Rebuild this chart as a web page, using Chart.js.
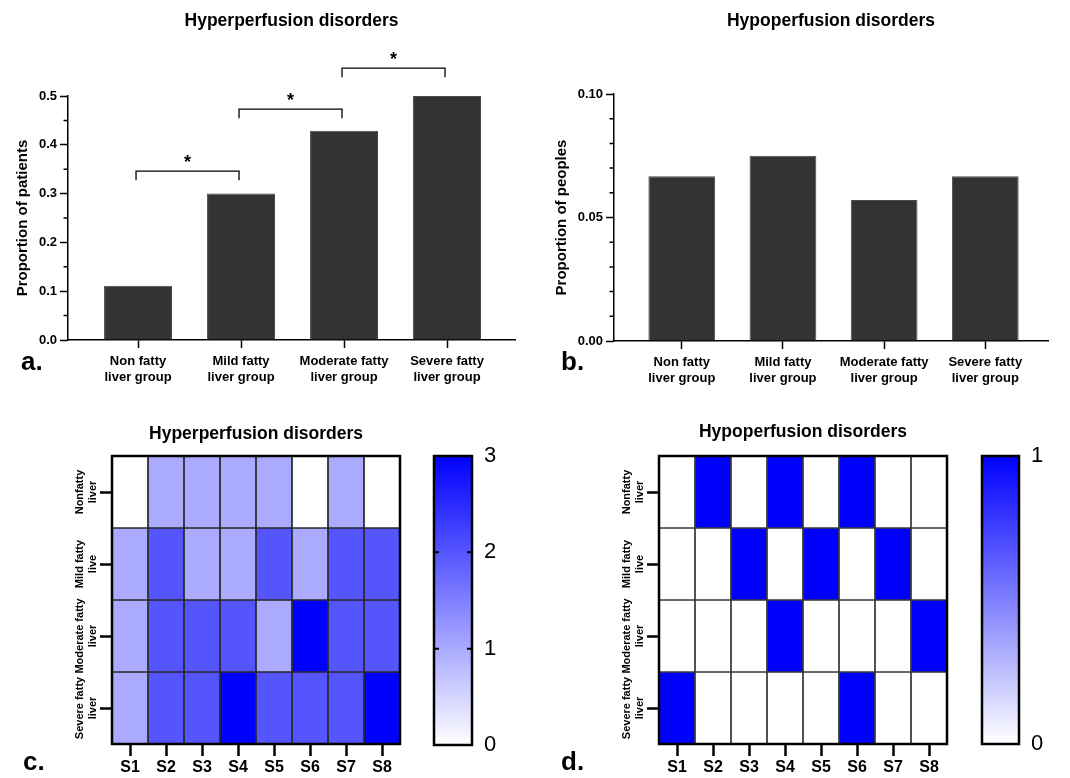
<!DOCTYPE html>
<html>
<head>
<meta charset="utf-8">
<script src="https://cdn.jsdelivr.net/npm/chart.js@4.4.1/dist/chart.umd.min.js"></script>
<style>
  body { margin: 0; background: #fff; }
  #wrap { position: relative; width: 1070px; height: 778px; }
  canvas { position: absolute; }
</style>
</head>
<body>
<div id="wrap">
  <canvas id="chartA" width="530" height="400" style="left:0;top:0"></canvas>
  <canvas id="chartB" width="540" height="400" style="left:530px;top:0"></canvas>
  <canvas id="heatC" width="425" height="378" style="left:0;top:400px"></canvas>
  <canvas id="barC" width="105" height="378" style="left:425px;top:400px"></canvas>
  <canvas id="heatD" width="430" height="378" style="left:540px;top:400px"></canvas>
  <canvas id="barD" width="100" height="378" style="left:970px;top:400px"></canvas>
</div>
<script>
// data
const groups = [['Non fatty', 'liver group'], ['Mild fatty', 'liver group'], ['Moderate fatty', 'liver group'], ['Severe fatty', 'liver group']];
const hyperProportion = [0.111, 0.300, 0.429, 0.500];
const hypoProportion = [0.0667, 0.075, 0.0571, 0.0667];

// significance brackets (group index from / to, bracket level)
const sigFrom = [0, 1, 2];
const sigTo = [1, 2, 3];
const sigLevel = [0.346, 0.473, 0.557];

const subjects = ['S1', 'S2', 'S3', 'S4', 'S5', 'S6', 'S7', 'S8'];
const liverRows = [['Nonfatty', 'liver'], ['Mild fatty', 'live'], ['Moderate fatty', 'liver'], ['Severe fatty', 'liver']];
const hyperGrades = [
    [0, 1, 1, 1, 1, 0, 1, 0],
    [1, 2, 1, 1, 2, 1, 2, 2],
    [1, 2, 2, 2, 1, 3, 2, 2],
    [1, 2, 2, 3, 2, 2, 2, 3]
];
const hypoGrades = [
    [0, 1, 0, 1, 0, 1, 0, 0],
    [0, 0, 1, 0, 1, 0, 1, 0],
    [0, 0, 0, 1, 0, 0, 0, 1],
    [1, 0, 0, 0, 0, 1, 0, 0]
];
const scaleC = [0, 3];
const scaleD = [0, 1];

const FONT = "'Liberation Sans', Arial, Helvetica, sans-serif";
Chart.defaults.font.family = FONT;
Chart.defaults.color = '#000';

const shade = t => {
    let c = Math.round(255 * (1 - t));
    return 'rgb(' + c + ',' + c + ',255)';
};

// titles, panel letters, brackets, frames and small ticks
const decor = {
    id: 'decor',
    afterDraw(chart, args, o) {
        const ctx = chart.ctx, a = chart.chartArea;
        ctx.save();
        ctx.fillStyle = '#000';
        ctx.strokeStyle = '#000';
        if (o.title) {
            ctx.font = 'bold 17.5px ' + FONT;
            ctx.textAlign = 'center';
            ctx.textBaseline = 'middle';
            ctx.fillText(o.title, (a.left + a.right) / 2, o.titleY);
        }
        if (o.letter) {
            ctx.font = 'bold 26px ' + FONT;
            ctx.textAlign = 'left';
            ctx.textBaseline = 'alphabetic';
            ctx.fillText(o.letter, o.letterX, o.letterY);
        }
        if (o.minorStep) {
            let ys = chart.scales.y;
            ctx.lineWidth = 1.5;
            ctx.beginPath();
            ys.ticks.forEach(t => {
                if (!o.isMajor(t.value)) {
                    let py = ys.getPixelForValue(t.value);
                    ctx.moveTo(a.left - 4.5, py);
                    ctx.lineTo(a.left, py);
                }
            });
            ctx.stroke();
        }
        if (o.brackets) {
            let xs = chart.scales.x, ys = chart.scales.y;
            ctx.lineWidth = 1.3;
            o.brackets.from.forEach((f, k) => {
                let x1 = xs.getPixelForValue(f) - 2;
                let x2 = xs.getPixelForValue(o.brackets.to[k]) - 2;
                let yl = ys.getPixelForValue(o.brackets.level[k]);
                ctx.beginPath();
                ctx.moveTo(x1, yl + 9);
                ctx.lineTo(x1, yl);
                ctx.lineTo(x2, yl);
                ctx.lineTo(x2, yl + 9);
                ctx.stroke();
                ctx.font = 'bold 18px ' + FONT;
                ctx.textAlign = 'center';
                ctx.textBaseline = 'alphabetic';
                ctx.fillText('*', (x1 + x2) / 2, yl - 3);
            });
        }
        if (o.rowLabels) {
            let ys = chart.scales.y;
            ctx.font = 'bold 11px ' + FONT;
            ctx.textAlign = 'center';
            ctx.textBaseline = 'middle';
            o.rowLabels.forEach((lines, i) => {
                let py = ys.getPixelForTick(i);
                ctx.save();
                ctx.translate(a.left - 26, py);
                ctx.rotate(-Math.PI / 2);
                lines.forEach((s, k) => ctx.fillText(s, 0, (k - (lines.length - 1) / 2) * 13));
                ctx.restore();
            });
        }
        if (o.innerTicks) {
            let ys = chart.scales.y;
            ctx.lineWidth = 2;
            ctx.beginPath();
            ys.ticks.forEach(t => {
                if (t.value > ys.min && t.value < ys.max) {
                    let py = ys.getPixelForValue(t.value);
                    ctx.moveTo(a.left, py); ctx.lineTo(a.left + 5, py);
                    ctx.moveTo(a.right - 5, py); ctx.lineTo(a.right, py);
                }
            });
            ctx.stroke();
        }
        if (o.frame) {
            ctx.lineWidth = 2.5;
            ctx.strokeRect(a.left, a.top, a.right - a.left, a.bottom - a.top);
        }
        ctx.restore();
    }
};
Chart.register(decor);

function barPanel(id, values, s) {
    const isMajor = v => Math.abs(v / s.major - Math.round(v / s.major)) < 1e-6;
    new Chart(document.getElementById(id), {
        type: 'bar',
        data: {
            datasets: [{
                data: values.map((v, i) => ({x: i, y: v})),
                backgroundColor: '#333333',
                borderColor: '#4a4a4a',
                borderWidth: 1,
                categoryPercentage: 1,
                barPercentage: 0.66
            }]
        },
        options: {
            responsive: false,
            animation: false,
            layout: {padding: s.padding},
            plugins: {
                legend: {display: false},
                tooltip: {enabled: false},
                decor: {
                    title: s.title, titleY: 21,
                    letter: s.letter, letterX: s.letterX, letterY: 370,
                    minorStep: s.step, isMajor: isMajor,
                    brackets: s.brackets
                }
            },
            scales: {
                x: {
                    type: 'linear',
                    offset: false,
                    min: s.xMin, max: s.xMax,
                    afterBuildTicks: sc => { sc.ticks = groups.map((g, i) => ({value: i})); },
                    ticks: {
                        autoSkip: false, maxRotation: 0,
                        callback: v => groups[v],
                        font: {size: 13, weight: 'bold', lineHeight: 1.25},
                        padding: 5
                    },
                    grid: {offset: false, drawOnChartArea: false, tickLength: 8, tickWidth: 1.5, tickColor: '#000'},
                    border: {color: '#000', width: 1.5},
                    afterFit: sc => { sc.height = s.xHeight; }
                },
                y: {
                    min: 0, max: s.yMax,
                    ticks: {
                        stepSize: s.step, autoSkip: false,
                        callback: v => isMajor(v) ? v.toFixed(s.digits) : '',
                        font: {size: 13, weight: 'bold'},
                        padding: 3
                    },
                    grid: {
                        drawOnChartArea: false, tickLength: 8, tickWidth: 1.5,
                        tickColor: c => isMajor(c.tick.value) ? '#000' : 'rgba(0,0,0,0)'
                    },
                    border: {color: '#000', width: 1.5},
                    title: {display: true, text: s.yTitle, font: {size: 15, weight: 'bold'}, padding: {top: s.titlePad, bottom: 0}},
                    afterFit: sc => { sc.width = s.yWidth; }
                }
            }
        }
    });
}

function heatmap(id, grades, vmax, s) {
    new Chart(document.getElementById(id), {
        type: 'bar',
        data: {
            labels: subjects,
            datasets: grades.map((row, r) => ({
                label: liverRows[r].join(' '),
                data: row.map(() => 1),
                backgroundColor: row.map(v => shade(v / vmax)),
                borderColor: s.lineColor,
                borderWidth: 1.2,
                borderSkipped: false,
                categoryPercentage: 1,
                barPercentage: 1
            }))
        },
        options: {
            responsive: false,
            animation: false,
            layout: {padding: {left: 0, top: 56, right: s.padRight, bottom: 0}},
            plugins: {
                legend: {display: false},
                tooltip: {enabled: false},
                decor: {
                    title: s.title, titleY: s.titleY,
                    letter: s.letter, letterX: s.letterX, letterY: 370,
                    rowLabels: liverRows, frame: true
                }
            },
            scales: {
                x: {
                    stacked: true,
                    ticks: {font: {size: 16, weight: 'bold'}, padding: 2},
                    grid: {offset: false, drawOnChartArea: false, tickLength: 12, tickWidth: 2.5, tickColor: '#000'},
                    border: {display: false},
                    afterFit: sc => { sc.height = 34; }
                },
                y: {
                    stacked: true, reverse: true, min: 0, max: liverRows.length,
                    afterBuildTicks: sc => { sc.ticks = liverRows.map((l, i) => ({value: i + 0.5})); },
                    ticks: {display: false},
                    grid: {drawOnChartArea: false, tickLength: 12, tickWidth: 2.5, tickColor: '#000'},
                    border: {display: false},
                    afterFit: sc => { sc.width = s.yWidth; }
                }
            }
        }
    });
}

function colorbar(id, range, s) {
    new Chart(document.getElementById(id), {
        type: 'bar',
        data: {
            labels: [''],
            datasets: [{
                data: [range],
                backgroundColor: c => {
                    const a = c.chart.chartArea;
                    if (!a) return 'rgba(0,0,0,0)';
                    const g = c.chart.ctx.createLinearGradient(0, a.bottom, 0, a.top);
                    g.addColorStop(0, '#ffffff');
                    g.addColorStop(1, '#0000ff');
                    return g;
                },
                borderWidth: 0,
                categoryPercentage: 1,
                barPercentage: 1
            }]
        },
        options: {
            responsive: false,
            animation: false,
            layout: {padding: {left: s.padLeft, top: 56, right: 0, bottom: s.padBottom}},
            plugins: {
                legend: {display: false},
                tooltip: {enabled: false},
                decor: {frame: true, innerTicks: true}
            },
            scales: {
                x: {display: false},
                y: {
                    position: 'right', min: range[0], max: range[1],
                    ticks: {stepSize: 1, font: {size: 22}, padding: 12},
                    grid: {display: false, drawTicks: false},
                    border: {display: false},
                    afterFit: sc => { sc.width = s.yWidth; }
                }
            }
        }
    });
}

barPanel('chartA', hyperProportion, {
    title: 'Hyperperfusion disorders', letter: 'a.', letterX: 21,
    padding: {left: 0, top: 96, right: 15, bottom: 0},
    xMin: -0.68, xMax: 3.66, xHeight: 60, yWidth: 68,
    yMax: 0.5, step: 0.05, major: 0.1, digits: 1,
    yTitle: 'Proportion of patients', titlePad: 14,
    brackets: {from: sigFrom, to: sigTo, level: sigLevel}
});

barPanel('chartB', hypoProportion, {
    title: 'Hypoperfusion disorders', letter: 'b.', letterX: 31,
    padding: {left: 0, top: 94, right: 22, bottom: 0},
    xMin: -0.67, xMax: 3.62, xHeight: 59, yWidth: 84,
    yMax: 0.1, step: 0.01, major: 0.05, digits: 2,
    yTitle: 'Proportion of peoples', titlePad: 23
});

heatmap('heatC', hyperGrades, scaleC[1], {
    title: 'Hyperperfusion disorders', titleY: 34, letter: 'c.', letterX: 23,
    padRight: 25, yWidth: 112, lineColor: '#2a2a2a'
});
colorbar('barC', scaleC, {padLeft: 9, padBottom: 33, yWidth: 58});

heatmap('heatD', hypoGrades, scaleD[1], {
    title: 'Hypoperfusion disorders', titleY: 32, letter: 'd.', letterX: 21,
    padRight: 23, yWidth: 119, lineColor: '#3a3a3a'
});
colorbar('barD', scaleD, {padLeft: 12, padBottom: 34, yWidth: 51});
</script>
</body>
</html>
